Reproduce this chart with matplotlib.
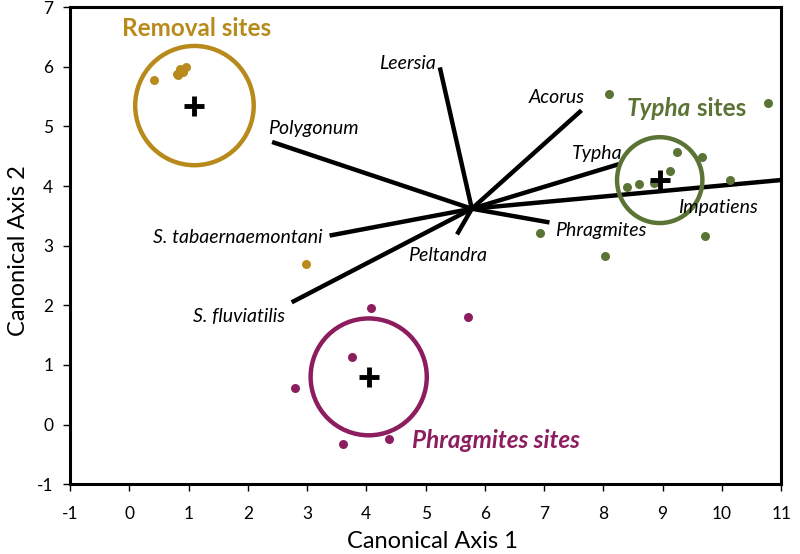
import matplotlib.pyplot as plt
from matplotlib.patches import Circle

plt.rcParams['font.family'] = ['Lato', 'DejaVu Sans']
plt.rcParams['axes.unicode_minus'] = False

# site scores
removal_x = [0.42, 0.80, 0.85, 0.95, 0.90, 0.82, 2.98]
removal_y = [5.78, 5.88, 5.97, 6.00, 5.92, 5.86, 2.70]
typha_x = [8.09, 10.77, 9.24, 9.66, 9.12, 8.60, 8.39, 10.13, 9.71, 8.02, 6.93, 8.85]
typha_y = [5.54, 5.39, 4.57, 4.48, 4.25, 4.03, 3.98, 4.11, 3.16, 2.82, 3.21, 4.05]
phrag_x = [4.08, 5.71, 3.76, 2.79, 3.60, 4.38]
phrag_y = [1.95, 1.80, 1.14, 0.62, -0.33, -0.25]

# centroids and circle radii
groups = ['Removal', 'Typha', 'Phragmites']
cent_x = [1.10, 8.95, 4.04]
cent_y = [5.35, 4.10, 0.80]
radius = [1.00, 0.72, 0.98]
colors = ['#B88A1C', '#5B7335', '#8C1D5E']

# species vectors (origin + tips)
origin = (5.78, 3.62)
species = ['Leersia', 'Acorus', 'Typha', 'Impatiens', 'Phragmites', 'Peltandra',
           'Polygonum', 'S. tabaernaemontani', 'S. fluviatilis']
tip_x = [5.24, 7.63, 8.27, 11.2, 7.09, 5.53, 2.41, 3.38, 2.74]
tip_y = [5.99, 5.27, 4.37, 4.12, 3.39, 3.19, 4.74, 3.17, 2.05]
lab_x = [5.18, 7.21, 7.89, 9.93, 7.18, 5.37, 3.10, 3.27, 2.62]
lab_y = [6.06, 5.49, 4.55, 3.64, 3.26, 2.84, 4.97, 3.14, 1.82]
lab_ha = ['right', 'center', 'center', 'center', 'left', 'center', 'center', 'right', 'right']

fig = plt.figure(figsize=(8, 5.54), dpi=100)
ax = fig.add_axes([0.0875, 0.126, 0.889, 0.861])

for i in range(len(species)):
    ax.plot([origin[0], tip_x[i]], [origin[1], tip_y[i]], color='black', lw=3.2,
            solid_capstyle='butt', zorder=3)
    ax.text(lab_x[i], lab_y[i], species[i], style='italic', fontsize=14,
            ha=lab_ha[i], va='center', zorder=5)

ax.scatter(removal_x, removal_y, s=42, color=colors[0], zorder=4, linewidths=0)
ax.scatter(typha_x, typha_y, s=42, color=colors[1], zorder=4, linewidths=0)
ax.scatter(phrag_x, phrag_y, s=42, color=colors[2], zorder=4, linewidths=0)

for i in range(len(groups)):
    ax.add_patch(Circle((cent_x[i], cent_y[i]), radius[i], fill=False,
                        edgecolor=colors[i], lw=3.2, zorder=4))
    ax.plot(cent_x[i], cent_y[i], marker='+', ms=15, mew=3.5, color='black', zorder=6)

ax.text(1.14, 6.65, 'Removal sites', color=colors[0], fontsize=17.5, fontweight='bold',
        ha='center', va='center')
t1 = ax.text(8.40, 5.30, 'Typha', color=colors[1], fontsize=17.5,
             fontweight='bold', style='italic', ha='left', va='center')
ax.annotate(' sites', xycoords=t1, xy=(1, 0.5), va='center', ha='left',
            color=colors[1], fontsize=17.5, fontweight='bold')
ax.text(6.18, -0.27, 'Phragmites sites', color=colors[2], fontsize=17.5,
        fontweight='bold', style='italic', ha='center', va='center')

ax.set_xlim(-1, 11)
ax.set_ylim(-1, 7)
ax.set_xticks(range(-1, 12))
ax.set_yticks(range(-1, 8))
ax.tick_params(labelsize=12.5, width=1, length=5, direction='out')
ax.tick_params(axis='x', pad=11)
ax.tick_params(axis='y', pad=7)
for sp in ax.spines.values():
    sp.set_linewidth(2.2)
ax.set_xlabel('Canonical Axis 1', fontsize=17)
ax.set_ylabel('Canonical Axis 2', fontsize=17)
ax.xaxis.set_label_coords(0.51, -0.098)
ax.yaxis.set_label_coords(-0.058, 0.49)

fig.savefig('out.png', dpi=100)
